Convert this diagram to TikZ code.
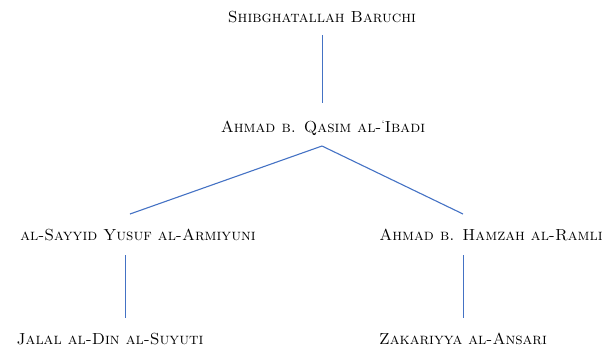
\documentclass[tikz,border=0pt]{standalone}
\begin{document}
\begin{tikzpicture}[x=1pt,y=-1pt,
  person/.style={inner sep=0pt, text=black, font=\fontsize{16}{19}\selectfont\scshape},
  link/.style={draw={rgb,255:red,68;green,114;blue,196}, line width=1.1pt}]
\useasboundingbox (0,0) rectangle (610,354);
\node[person] (s) at (322,17) {Shibghatallah Baruchi};
\node[person] (a) at (323,128) {Ahmad b. Qasim al-\raisebox{0.6ex}{\fontsize{10}{12}\selectfont\textquoteleft}Ibadi};
\node[person] (y) at (138,235) {al-Sayyid Yusuf al-Armiyuni};
\node[person] (h) at (491,235) {Ahmad b. Hamzah al-Ramli};
\node[person] (j) at (110,339) {Jalal al-Din al-Suyuti};
\node[person] (z) at (463,339) {Zakariyya al-Ansari};
\coordinate (s1) at (322.5,35);
\coordinate (a0) at (322.5,103);
\coordinate (a1) at (322,146);
\coordinate (y0) at (130,214);
\coordinate (h0) at (463,214);
\coordinate (y1) at (125.2,255);
\coordinate (j0) at (125.2,318);
\coordinate (h1) at (463.2,255);
\coordinate (z0) at (463.2,318);
\draw[link] (s1) -- (a0);
\draw[link] (a1) -- (y0);
\draw[link] (a1) -- (h0);
\draw[link] (y1) -- (j0);
\draw[link] (h1) -- (z0);
\end{tikzpicture}
\end{document}
